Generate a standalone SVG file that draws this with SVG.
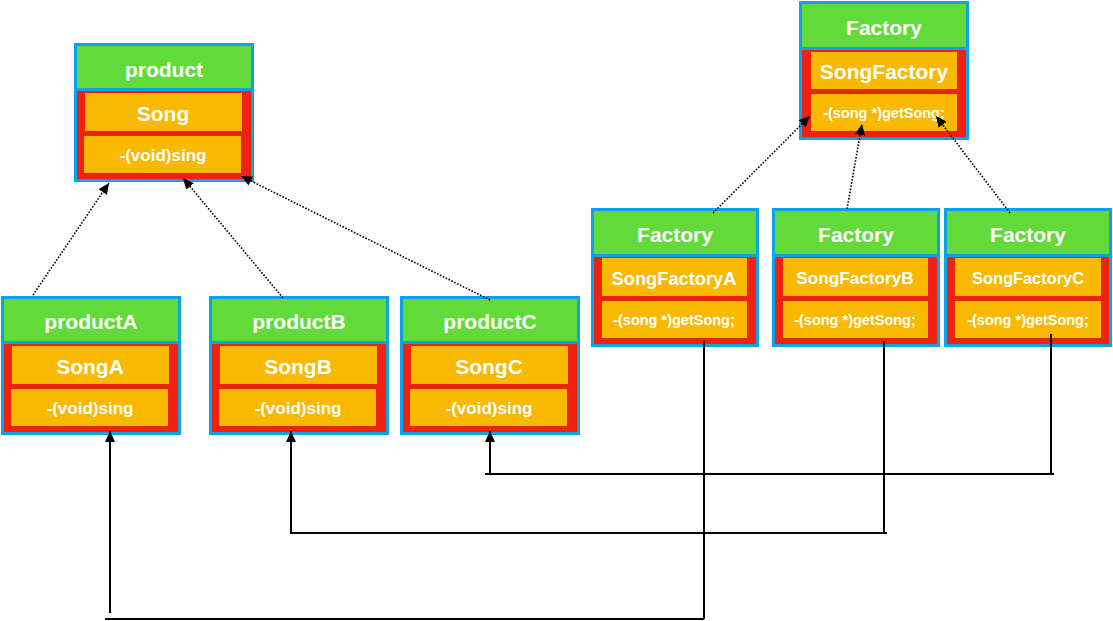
<svg xmlns="http://www.w3.org/2000/svg" width="1113" height="621" viewBox="0 0 1113 621">
<style>
.bd{fill:#0AA3EE}
.hd{fill:#62DB3A}
.bo{fill:#EE2211}
.row{fill:#F8B900}
text{font-family:"Liberation Sans",Arial,sans-serif;font-weight:bold;fill:#ffffff;text-anchor:middle;dominant-baseline:central}
.h{font-size:21px}
.gs{font-size:14.5px}
.dot{fill:none;stroke:#000;stroke-width:1.6;stroke-dasharray:1.6 1.6}
.ln{fill:none;stroke:#000;stroke-width:2}
</style>
<defs>
<marker id="ah" markerUnits="userSpaceOnUse" markerWidth="12" markerHeight="10" refX="11" refY="5" orient="auto">
<path d="M0,0 L11,5 L0,10 Z" fill="#000"/>
</marker>
</defs>
<rect width="1113" height="621" fill="#ffffff"/>

<g id="product">
<rect class="bd" x="74" y="43" width="180" height="139"/>
<rect class="hd" x="77" y="46" width="174" height="42"/>
<rect class="bo" x="77" y="91" width="174" height="88"/>
<rect class="row" x="85" y="93" width="157" height="38"/>
<rect class="row" x="84" y="136" width="157" height="37"/>
<text class="h" x="164" y="69">product</text>
<text class="h" x="163" y="113">Song</text>
<text x="163" y="155" font-size="17">-(void)sing</text>
</g>

<g id="productA">
<rect class="bd" x="1" y="296" width="180" height="139"/>
<rect class="hd" x="4" y="299" width="174" height="42"/>
<rect class="bo" x="4" y="344" width="174" height="88"/>
<rect class="row" x="12" y="346" width="157" height="38"/>
<rect class="row" x="11" y="389" width="157" height="37"/>
<text class="h" x="91" y="321">productA</text>
<text class="h" x="90" y="366">SongA</text>
<text x="90" y="408" font-size="17">-(void)sing</text>
</g>

<g id="productB">
<rect class="bd" x="209" y="296" width="180" height="139"/>
<rect class="hd" x="212" y="299" width="174" height="42"/>
<rect class="bo" x="212" y="344" width="174" height="88"/>
<rect class="row" x="220" y="346" width="157" height="38"/>
<rect class="row" x="219" y="389" width="157" height="37"/>
<text class="h" x="299" y="321">productB</text>
<text class="h" x="298" y="366">SongB</text>
<text x="298" y="408" font-size="17">-(void)sing</text>
</g>

<g id="productC">
<rect class="bd" x="400" y="296" width="180" height="139"/>
<rect class="hd" x="403" y="299" width="174" height="42"/>
<rect class="bo" x="403" y="344" width="174" height="88"/>
<rect class="row" x="411" y="346" width="157" height="38"/>
<rect class="row" x="410" y="389" width="157" height="37"/>
<text class="h" x="490" y="321">productC</text>
<text class="h" x="489" y="366">SongC</text>
<text x="489" y="408" font-size="17">-(void)sing</text>
</g>

<g id="Factory">
<rect class="bd" x="799" y="1" width="170" height="139"/>
<rect class="hd" x="802" y="4" width="164" height="43"/>
<rect class="bo" x="802" y="50" width="164" height="87"/>
<rect class="row" x="811" y="52" width="146" height="37"/>
<rect class="row" x="811" y="94" width="146" height="37"/>
<text class="h" x="884" y="27">Factory</text>
<text class="h" x="884" y="71">SongFactory</text>
<text class="gs" x="884" y="113">-(song *)getSong;</text>
</g>

<g id="FactoryA">
<rect class="bd" x="591" y="208" width="168" height="139"/>
<rect class="hd" x="594" y="211" width="162" height="43"/>
<rect class="bo" x="594" y="257" width="162" height="87"/>
<rect class="row" x="602" y="258" width="145" height="38"/>
<rect class="row" x="602" y="301" width="145" height="37"/>
<text class="h" x="675" y="234">Factory</text>
<text x="674" y="278" font-size="18.3">SongFactoryA</text>
<text class="gs" x="674" y="320">-(song *)getSong;</text>
</g>

<g id="FactoryB">
<rect class="bd" x="772" y="208" width="168" height="139"/>
<rect class="hd" x="775" y="211" width="162" height="43"/>
<rect class="bo" x="775" y="257" width="162" height="87"/>
<rect class="row" x="783" y="258" width="145" height="38"/>
<rect class="row" x="783" y="301" width="145" height="37"/>
<text class="h" x="856" y="234">Factory</text>
<text x="855" y="278" font-size="17.2">SongFactoryB</text>
<text class="gs" x="855" y="320">-(song *)getSong;</text>
</g>

<g id="FactoryC">
<rect class="bd" x="944" y="208" width="168" height="139"/>
<rect class="hd" x="947" y="211" width="162" height="43"/>
<rect class="bo" x="947" y="257" width="162" height="87"/>
<rect class="row" x="955" y="258" width="146" height="38"/>
<rect class="row" x="955" y="301" width="146" height="37"/>
<text class="h" x="1028" y="234">Factory</text>
<text x="1028" y="278" font-size="16.4">SongFactoryC</text>
<text class="gs" x="1028" y="320">-(song *)getSong;</text>
</g>

<g id="connectors">
<path class="dot" d="M33,295 L109,183" marker-end="url(#ah)"/>
<path class="dot" d="M283,298 L183,178" marker-end="url(#ah)"/>
<path class="dot" d="M490,300 L241,176" marker-end="url(#ah)"/>
<path class="dot" d="M713,213 L810,116" marker-end="url(#ah)"/>
<path class="dot" d="M847,209 L862,124" marker-end="url(#ah)"/>
<path class="dot" d="M1010,213 L936,116" marker-end="url(#ah)"/>

<path class="ln" d="M704,341 V619"/>
<path class="ln" d="M105,619 H704"/>
<path class="ln" d="M110,613 V431" marker-end="url(#ah)"/>

<path class="ln" d="M884,341 V534"/>
<path class="ln" d="M290,533 H887"/>
<path class="ln" d="M291,533 V431" marker-end="url(#ah)"/>

<path class="ln" d="M1051,334 V475"/>
<path class="ln" d="M485,474 H1054"/>
<path class="ln" d="M490,474 V431" marker-end="url(#ah)"/>
</g>
</svg>
